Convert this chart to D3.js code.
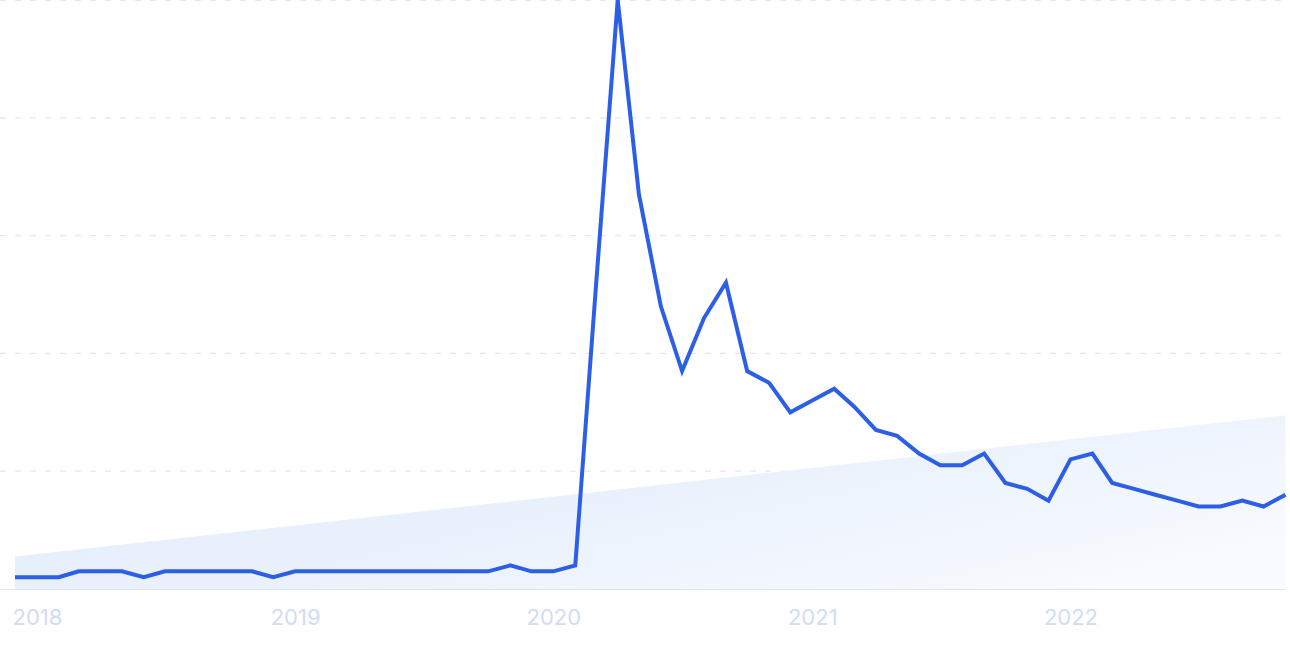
<!DOCTYPE html>
<html>
<head>
<meta charset="utf-8">
<script src="https://cdn.jsdelivr.net/npm/d3@7"></script>
<style>
  html, body { margin: 0; padding: 0; background: #ffffff; }
  svg { display: block; }
</style>
</head>
<body>
<svg id="chart" width="1290" height="645"></svg>
<script>
// Monthly points, Dec 2017 .. Nov 2022
const startMonth = "2017-12";
const values = [
  2, 2, 2, 3, 3, 3, 2, 3, 3, 3, 3, 3,
  2, 3, 3, 3, 3, 3, 3, 3, 3, 3, 3, 4,
  3, 3, 4, 51, 100, 67, 48, 37, 46, 52, 37, 35,
  30, 32, 34, 31, 27, 26, 23, 21, 21, 23, 18, 17,
  15, 22, 23, 18, 17, 16, 15, 14, 14, 15, 14, 16
];
const yearLabels = ["2018", "2019", "2020", "2021", "2022"];
const gridTicks = [0, 20, 40, 60, 80, 100];
const trendValues = [5.5, 29.5]; // trend line start / end

const W = 1290, H = 645;
const svg = d3.select("#chart");
const parse = d3.timeParse("%Y-%m");
const t0 = parse(startMonth);
const dates = values.map((v, i) => d3.timeMonth.offset(t0, i));
const data = values.map((v, i) => ({ date: dates[i], value: v }));

const x = d3.scaleTime()
  .domain(d3.extent(dates))
  .range([15, 1285.5]);
const y = d3.scaleLinear().domain([0, 100]).range([589, 0]);

// gradient for trend area
const defs = svg.append("defs");
const grad = defs.append("linearGradient")
  .attr("id", "trendGrad")
  .attr("x1", "0").attr("y1", "0.2").attr("x2", "1").attr("y2", "0.8");
grad.append("stop").attr("offset", "0%").attr("stop-color", "#e1ecfb");
grad.append("stop").attr("offset", "45%").attr("stop-color", "#e9f1fc");
grad.append("stop").attr("offset", "100%").attr("stop-color", "#f8fbff");

// grid lines
svg.append("g")
  .selectAll("line")
  .data(gridTicks.filter(d => d > 0))
  .join("line")
  .attr("x1", 0).attr("x2", 1285)
  .attr("y1", d => Math.max(0.5, y(d))).attr("y2", d => Math.max(0.5, y(d)))
  .attr("stroke", "#dfe8f8")
  .attr("stroke-width", 1.2)
  .attr("stroke-dasharray", "6,9");

// trend area
const trendData = [
  { date: dates[0], value: trendValues[0] },
  { date: dates[dates.length - 1], value: trendValues[1] }
];
svg.append("path")
  .datum(trendData)
  .attr("fill", "url(#trendGrad)")
  .attr("d", d3.area().x(d => x(d.date)).y0(y(0)).y1(d => y(d.value)));

// baseline
svg.append("line")
  .attr("x1", 0).attr("x2", 1285)
  .attr("y1", y(0) + 0.5).attr("y2", y(0) + 0.5)
  .attr("stroke", "#dbe5f6")
  .attr("stroke-width", 1.2);

// x axis labels
const xAxis = d3.axisBottom(x)
  .tickValues(yearLabels.map(yr => parse(yr + "-01")))
  .tickFormat(d3.timeFormat("%Y"))
  .tickSize(0)
  .tickPadding(0);
const gx = svg.append("g")
  .attr("transform", `translate(0, ${y(0)})`)
  .call(xAxis);
gx.select(".domain").remove();
gx.selectAll("text")
  .attr("dy", null)
  .attr("y", 36)
  .attr("fill", "#d1dcf5")
  .attr("font-family", "Inter, 'Noto Sans', sans-serif")
  .attr("font-size", 22)
  .attr("font-weight", 400);

// line
svg.append("path")
  .datum(data)
  .attr("fill", "none")
  .attr("stroke", "#2d5ee6")
  .attr("stroke-width", 4)
  .attr("stroke-linejoin", "miter")
  .attr("d", d3.line().x(d => x(d.date)).y(d => y(d.value)));
</script>
</body>
</html>
